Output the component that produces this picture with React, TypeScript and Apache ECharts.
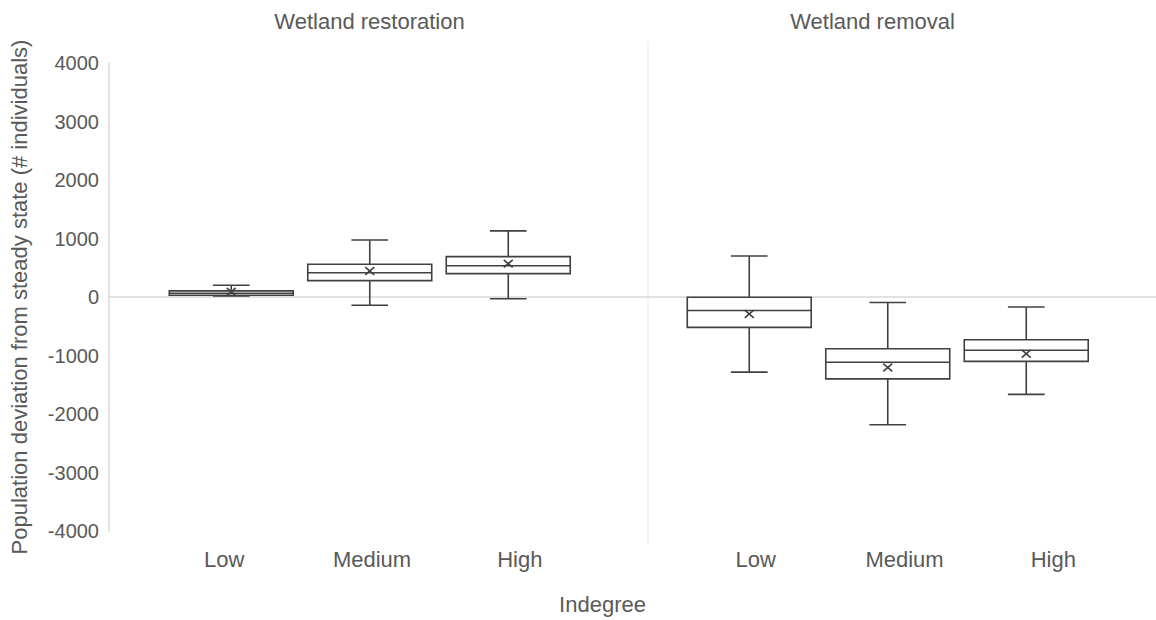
import React, { useEffect, useRef } from "react";
import * as echarts from "echarts";

const categories = ["Low", "Medium", "High"];
const yTicks = [-4000, 4000, 1000]; // min, max, interval

// Wetland restoration
const restMin = [20, -140, -30];
const restQ1 = [30, 280, 400];
const restMedian = [65, 415, 535];
const restQ3 = [105, 560, 690];
const restMax = [200, 975, 1130];
const restMean = [90, 445, 570];

// Wetland removal
const remMin = [-1285, -2185, -1665];
const remQ1 = [-520, -1400, -1100];
const remMedian = [-230, -1115, -910];
const remQ3 = [-5, -885, -730];
const remMax = [700, -95, -170];
const remMean = [-290, -1205, -970];

const TEXT = "#595959";
const LINE = "#404040";
const FONT = "'Liberation Sans', Arial, sans-serif";

function build(mins: number[], q1: number[], med: number[], q3: number[], max: number[], mean: number[]) {
  return categories.map((_, i) => [i, mins[i], q1[i], med[i], q3[i], max[i], mean[i]]);
}

const renderBox = (params: any, api: any) => {
  const idx = api.value(0);
  const band = api.size([1, 0])[0];
  const bw = band * 0.895;
  const cw = band * 0.265;
  const pMin = api.coord([idx, api.value(1)]);
  const pQ1 = api.coord([idx, api.value(2)]);
  const pMed = api.coord([idx, api.value(3)]);
  const pQ3 = api.coord([idx, api.value(4)]);
  const pMax = api.coord([idx, api.value(5)]);
  const pMean = api.coord([idx, api.value(6)]);
  const cx = pMed[0];
  const st = { stroke: LINE, lineWidth: 1.6, fill: null };
  const xs = 4.5;
  const my = pMean[1];
  return {
    type: "group",
    children: [
      { type: "line", shape: { x1: cx, y1: pQ3[1], x2: cx, y2: pMax[1] }, style: st },
      { type: "line", shape: { x1: cx, y1: pQ1[1], x2: cx, y2: pMin[1] }, style: st },
      { type: "line", shape: { x1: cx - cw / 2, y1: pMax[1], x2: cx + cw / 2, y2: pMax[1] }, style: st },
      { type: "line", shape: { x1: cx - cw / 2, y1: pMin[1], x2: cx + cw / 2, y2: pMin[1] }, style: st },
      {
        type: "rect",
        shape: { x: cx - bw / 2, y: pQ3[1], width: bw, height: pQ1[1] - pQ3[1] },
        style: { stroke: LINE, lineWidth: 1.6, fill: "#ffffff" },
      },
      { type: "line", shape: { x1: cx - bw / 2, y1: pMed[1], x2: cx + bw / 2, y2: pMed[1] }, style: st },
      { type: "line", shape: { x1: cx - xs, y1: my - xs * 0.85, x2: cx + xs, y2: my + xs * 0.85 }, style: st },
      { type: "line", shape: { x1: cx - xs, y1: my + xs * 0.85, x2: cx + xs, y2: my - xs * 0.85 }, style: st },
    ],
  };
};

export default function App() {
  const ref = useRef<HTMLDivElement>(null);
  useEffect(() => {
    if (!ref.current) return;
    const chart = echarts.init(ref.current, null, { renderer: "svg" });
    const hiddenY = (gi: number) => ({
      type: "value",
      gridIndex: gi,
      min: yTicks[0],
      max: yTicks[1],
      interval: yTicks[2],
      show: false,
    });
    const hiddenCatX = (gi: number) => ({
      type: "category",
      gridIndex: gi,
      data: categories,
      show: false,
    });
    const labelCatX = (gi: number) => ({
      type: "category",
      gridIndex: gi,
      data: categories,
      axisLine: { show: false },
      axisTick: { show: false },
      splitLine: { show: false },
      axisLabel: { color: TEXT, fontSize: 22, fontFamily: FONT, margin: 17 },
    });
    const option: any = {
      animation: false,
      backgroundColor: "#ffffff",
      textStyle: { fontFamily: FONT },
      grid: [
        { left: 108, right: 0, top: 63, height: 468 },
        { left: 162, width: 415.5, top: 63, height: 468 },
        { left: 680, width: 415.5, top: 63, height: 468 },
        { left: 150.4, width: 443.3, top: 63, height: 468 },
        { left: 681.4, width: 446.3, top: 63, height: 468 },
      ],
      xAxis: [
        {
          type: "value",
          gridIndex: 0,
          min: 0,
          max: 1,
          axisLine: { show: true, onZero: true, lineStyle: { color: "#d9d9d9", width: 1.5 } },
          axisTick: { show: false },
          axisLabel: { show: false },
          splitLine: { show: false },
        },
        hiddenCatX(1),
        hiddenCatX(2),
        labelCatX(3),
        labelCatX(4),
      ],
      yAxis: [
        {
          type: "value",
          gridIndex: 0,
          min: yTicks[0],
          max: yTicks[1],
          interval: yTicks[2],
          axisLine: { show: true, lineStyle: { color: "#d9d9d9", width: 1.5 } },
          axisTick: { show: false },
          splitLine: { show: false },
          axisLabel: {
            color: TEXT,
            fontSize: 20,
            fontFamily: FONT,
            margin: 10,
            formatter: (v: number) => String(v),
          },
          name: "Population deviation from steady state (# individuals)",
          nameLocation: "middle",
          nameRotate: 90,
          nameGap: 79,
          nameTextStyle: { color: TEXT, fontSize: 22, fontFamily: FONT },
        },
        hiddenY(1),
        hiddenY(2),
        hiddenY(3),
        hiddenY(4),
      ],
      graphic: [
        {
          type: "line",
          shape: { x1: 648, y1: 42, x2: 648, y2: 545 },
          style: { stroke: "#f0f0f0", lineWidth: 1.5 },
          z: 0,
        },
        {
          type: "text",
          x: 369.5,
          y: 21,
          style: { text: "Wetland restoration", fill: TEXT, fontSize: 22, fontFamily: FONT, align: "center", verticalAlign: "middle", textAlign: "center", textVerticalAlign: "middle" },
        },
        {
          type: "text",
          x: 872.5,
          y: 21,
          style: { text: "Wetland removal", fill: TEXT, fontSize: 22, fontFamily: FONT, align: "center", verticalAlign: "middle", textAlign: "center", textVerticalAlign: "middle" },
        },
        {
          type: "text",
          x: 602.5,
          y: 604,
          style: { text: "Indegree", fill: TEXT, fontSize: 22, fontFamily: FONT, align: "center", verticalAlign: "middle", textAlign: "center", textVerticalAlign: "middle" },
        },
      ],
      series: [
        {
          type: "custom",
          name: "Wetland restoration",
          xAxisIndex: 1,
          yAxisIndex: 1,
          renderItem: renderBox,
          encode: { x: 0, y: [1, 2, 3, 4, 5, 6] },
          data: build(restMin, restQ1, restMedian, restQ3, restMax, restMean),
          z: 5,
        },
        {
          type: "custom",
          name: "Wetland removal",
          xAxisIndex: 2,
          yAxisIndex: 2,
          renderItem: renderBox,
          encode: { x: 0, y: [1, 2, 3, 4, 5, 6] },
          data: build(remMin, remQ1, remMedian, remQ3, remMax, remMean),
          z: 5,
        },
      ],
    };
    chart.setOption(option);
    return () => chart.dispose();
  }, []);
  return (
    <div
      ref={ref}
      style={{ position: "fixed", left: 0, top: 0, width: 1156, height: 620, background: "#fff" }}
    />
  );
}
